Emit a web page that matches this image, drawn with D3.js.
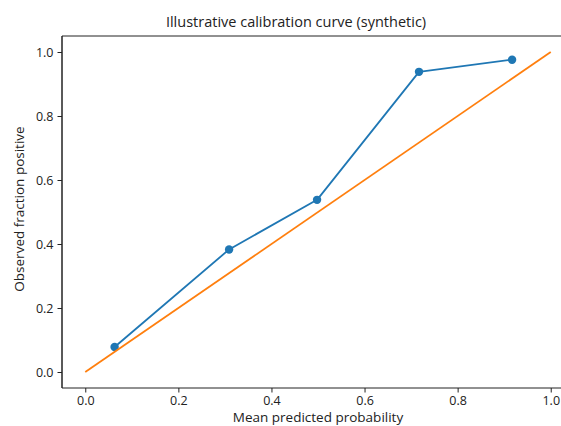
<!DOCTYPE html>
<html>
<head>
<meta charset="utf-8">
<script src="https://cdn.jsdelivr.net/npm/d3@7"></script>
<style>
  body { margin: 0; background: #fff; }
  svg { display: block; font-family: "Open Sans", sans-serif; }
  .axis text { font-family: "Open Sans", sans-serif; font-size: 12.5px; fill: #222; }
  .axis path, .axis line { stroke: #222; stroke-width: 1; }
</style>
</head>
<body>
<svg width="561" height="426"></svg>
<script>
// calibration curve points
var meanPredicted = [0.063, 0.309, 0.498, 0.717, 0.917];
var fractionPositive = [0.078, 0.383, 0.538, 0.938, 0.976];
var diagonal = [0, 1];
var xTicks = [0.0, 0.2, 0.4, 0.6, 0.8, 1.0];
var yTicks = [0.0, 0.2, 0.4, 0.6, 0.8, 1.0];

var svg = d3.select("svg");
var margin = {top: 36, right: 0, bottom: 38, left: 62};
var width = 574 - margin.left;   // axes run a bit past the right edge
var height = 426 - margin.top - margin.bottom;

var x = d3.scaleLinear().domain([-0.05, 1.05]).range([0, width]);
var y = d3.scaleLinear().domain([-0.05, 1.05]).range([height, 0]);

var g = svg.append("g")
	.attr("transform", "translate(" + margin.left + "," + margin.top + ")");

// frame
g.append("line").attr("x1", 0).attr("x2", 0).attr("y1", 0).attr("y2", height)
	.attr("stroke", "#222").attr("stroke-width", 1);
g.append("line").attr("x1", 0).attr("x2", width).attr("y1", 0).attr("y2", 0)
	.attr("stroke", "#222").attr("stroke-width", 1);

var xAxis = g.append("g")
	.attr("class", "axis")
	.attr("transform", "translate(0," + height + ")")
	.call(d3.axisBottom(x).tickValues(xTicks).tickFormat(d3.format(".1f")).tickSize(4.5).tickPadding(4).tickSizeOuter(0));
xAxis.select(".domain").attr("d", "M0,0H" + width);

var yAxis = g.append("g")
	.attr("class", "axis")
	.call(d3.axisLeft(y).tickValues(yTicks).tickFormat(d3.format(".1f")).tickSize(4.5).tickPadding(4).tickSizeOuter(0));
yAxis.select(".domain").attr("d", "M0,0V" + height);

var line = d3.line()
	.x(function(d) { return x(d[0]); })
	.y(function(d) { return y(d[1]); });

var curve = meanPredicted.map(function(v, i) { return [v, fractionPositive[i]]; });

g.append("path")
	.datum(curve)
	.attr("fill", "none")
	.attr("stroke", "#1f77b4")
	.attr("stroke-width", 1.8)
	.attr("stroke-linejoin", "round")
	.attr("d", line);

g.selectAll(".dot")
	.data(curve)
	.enter().append("circle")
		.attr("class", "dot")
		.attr("cx", function(d) { return x(d[0]); })
		.attr("cy", function(d) { return y(d[1]); })
		.attr("r", 4.2)
		.attr("fill", "#1f77b4");

g.append("path")
	.datum(diagonal.map(function(v) { return [v, v]; }))
	.attr("fill", "none")
	.attr("stroke", "#ff7f0e")
	.attr("stroke-width", 1.8)
	.attr("d", line);

// title and axis labels
svg.append("text")
	.attr("x", 296)
	.attr("y", 27)
	.attr("text-anchor", "middle")
	.attr("font-size", "14.5px")
	.attr("fill", "#222")
	.text("Illustrative calibration curve (synthetic)");

svg.append("text")
	.attr("x", 318)
	.attr("y", 422)
	.attr("text-anchor", "middle")
	.attr("font-size", "13.5px")
	.attr("fill", "#222")
	.text("Mean predicted probability");

svg.append("text")
	.attr("transform", "translate(24,209) rotate(-90)")
	.attr("text-anchor", "middle")
	.attr("font-size", "13.5px")
	.attr("fill", "#222")
	.text("Observed fraction positive");
</script>
</body>
</html>
